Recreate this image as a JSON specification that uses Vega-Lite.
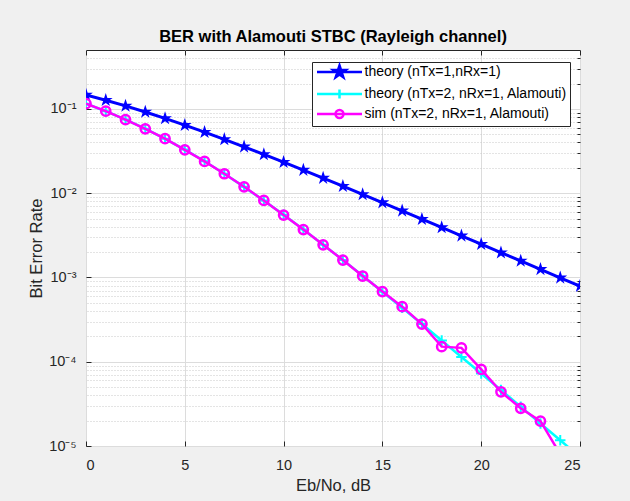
{
  "$schema": "https://vega.github.io/schema/vega-lite/v6.json",
  "width": 494,
  "height": 396,
  "autosize": "none",
  "padding": {"left": 86, "top": 50, "right": 50, "bottom": 55},
  "background": "#f0f0f0",
  "title": {"text": "BER with Alamouti STBC (Rayleigh channel)", "font": "Liberation Sans", "fontSize": 16.5, "fontWeight": "bold", "color": "#000000", "offset": 4},
  "config": {
    "view": {"fill": "white", "stroke": "#262626", "strokeWidth": 1},
    "axis": {"labelFont": "Liberation Sans", "labelFontSize": 14.5, "labelColor": "#262626", "titleFont": "Liberation Sans", "titleFontSize": 16.5, "titleFontWeight": "normal", "titleColor": "#262626", "domain": false, "tickColor": "#262626", "gridColor": "#dcdcdc", "gridWidth": 1}
  },
  "data": {"values": [
    {"x": 0, "ber": 0.1464, "series": "theory (nTx=1,nRx=1)"},
    {"x": 1, "ber": 0.1267, "series": "theory (nTx=1,nRx=1)"},
    {"x": 2, "ber": 0.1085, "series": "theory (nTx=1,nRx=1)"},
    {"x": 3, "ber": 0.0919, "series": "theory (nTx=1,nRx=1)"},
    {"x": 4, "ber": 0.0771, "series": "theory (nTx=1,nRx=1)"},
    {"x": 5, "ber": 0.0642, "series": "theory (nTx=1,nRx=1)"},
    {"x": 6, "ber": 0.053, "series": "theory (nTx=1,nRx=1)"},
    {"x": 7, "ber": 0.0435, "series": "theory (nTx=1,nRx=1)"},
    {"x": 8, "ber": 0.0355, "series": "theory (nTx=1,nRx=1)"},
    {"x": 9, "ber": 0.0288, "series": "theory (nTx=1,nRx=1)"},
    {"x": 10, "ber": 0.0233, "series": "theory (nTx=1,nRx=1)"},
    {"x": 11, "ber": 0.0188, "series": "theory (nTx=1,nRx=1)"},
    {"x": 12, "ber": 0.0151, "series": "theory (nTx=1,nRx=1)"},
    {"x": 13, "ber": 0.0121, "series": "theory (nTx=1,nRx=1)"},
    {"x": 14, "ber": 0.00967, "series": "theory (nTx=1,nRx=1)"},
    {"x": 15, "ber": 0.00773, "series": "theory (nTx=1,nRx=1)"},
    {"x": 16, "ber": 0.00617, "series": "theory (nTx=1,nRx=1)"},
    {"x": 17, "ber": 0.00492, "series": "theory (nTx=1,nRx=1)"},
    {"x": 18, "ber": 0.00392, "series": "theory (nTx=1,nRx=1)"},
    {"x": 19, "ber": 0.00312, "series": "theory (nTx=1,nRx=1)"},
    {"x": 20, "ber": 0.00248, "series": "theory (nTx=1,nRx=1)"},
    {"x": 21, "ber": 0.00197, "series": "theory (nTx=1,nRx=1)"},
    {"x": 22, "ber": 0.00157, "series": "theory (nTx=1,nRx=1)"},
    {"x": 23, "ber": 0.00125, "series": "theory (nTx=1,nRx=1)"},
    {"x": 24, "ber": 0.00099, "series": "theory (nTx=1,nRx=1)"},
    {"x": 25, "ber": 0.00079, "series": "theory (nTx=1,nRx=1)"},
    {"x": 0, "ber": 0.1151, "series": "theory (nTx=2, nRx=1, Alamouti)"},
    {"x": 1, "ber": 0.0939, "series": "theory (nTx=2, nRx=1, Alamouti)"},
    {"x": 2, "ber": 0.0748, "series": "theory (nTx=2, nRx=1, Alamouti)"},
    {"x": 3, "ber": 0.0582, "series": "theory (nTx=2, nRx=1, Alamouti)"},
    {"x": 4, "ber": 0.0442, "series": "theory (nTx=2, nRx=1, Alamouti)"},
    {"x": 5, "ber": 0.0329, "series": "theory (nTx=2, nRx=1, Alamouti)"},
    {"x": 6, "ber": 0.0239, "series": "theory (nTx=2, nRx=1, Alamouti)"},
    {"x": 7, "ber": 0.017, "series": "theory (nTx=2, nRx=1, Alamouti)"},
    {"x": 8, "ber": 0.01188, "series": "theory (nTx=2, nRx=1, Alamouti)"},
    {"x": 9, "ber": 0.00816, "series": "theory (nTx=2, nRx=1, Alamouti)"},
    {"x": 10, "ber": 0.00553, "series": "theory (nTx=2, nRx=1, Alamouti)"},
    {"x": 11, "ber": 0.0037, "series": "theory (nTx=2, nRx=1, Alamouti)"},
    {"x": 12, "ber": 0.00245, "series": "theory (nTx=2, nRx=1, Alamouti)"},
    {"x": 13, "ber": 0.00161, "series": "theory (nTx=2, nRx=1, Alamouti)"},
    {"x": 14, "ber": 0.00105, "series": "theory (nTx=2, nRx=1, Alamouti)"},
    {"x": 15, "ber": 0.000677, "series": "theory (nTx=2, nRx=1, Alamouti)"},
    {"x": 16, "ber": 0.000436, "series": "theory (nTx=2, nRx=1, Alamouti)"},
    {"x": 17, "ber": 0.00028, "series": "theory (nTx=2, nRx=1, Alamouti)"},
    {"x": 18, "ber": 0.000179, "series": "theory (nTx=2, nRx=1, Alamouti)"},
    {"x": 19, "ber": 0.000114, "series": "theory (nTx=2, nRx=1, Alamouti)"},
    {"x": 20, "ber": 0.0000726, "series": "theory (nTx=2, nRx=1, Alamouti)"},
    {"x": 21, "ber": 0.0000461, "series": "theory (nTx=2, nRx=1, Alamouti)"},
    {"x": 22, "ber": 0.0000293, "series": "theory (nTx=2, nRx=1, Alamouti)"},
    {"x": 23, "ber": 0.0000185, "series": "theory (nTx=2, nRx=1, Alamouti)"},
    {"x": 24, "ber": 0.0000117, "series": "theory (nTx=2, nRx=1, Alamouti)"},
    {"x": 25, "ber": 0.0000074, "series": "theory (nTx=2, nRx=1, Alamouti)"},
    {"x": 0, "ber": 0.1155, "series": "sim (nTx=2, nRx=1, Alamouti)"},
    {"x": 1, "ber": 0.094, "series": "sim (nTx=2, nRx=1, Alamouti)"},
    {"x": 2, "ber": 0.0745, "series": "sim (nTx=2, nRx=1, Alamouti)"},
    {"x": 3, "ber": 0.058, "series": "sim (nTx=2, nRx=1, Alamouti)"},
    {"x": 4, "ber": 0.0443, "series": "sim (nTx=2, nRx=1, Alamouti)"},
    {"x": 5, "ber": 0.0327, "series": "sim (nTx=2, nRx=1, Alamouti)"},
    {"x": 6, "ber": 0.0238, "series": "sim (nTx=2, nRx=1, Alamouti)"},
    {"x": 7, "ber": 0.017, "series": "sim (nTx=2, nRx=1, Alamouti)"},
    {"x": 8, "ber": 0.0119, "series": "sim (nTx=2, nRx=1, Alamouti)"},
    {"x": 9, "ber": 0.0082, "series": "sim (nTx=2, nRx=1, Alamouti)"},
    {"x": 10, "ber": 0.0055, "series": "sim (nTx=2, nRx=1, Alamouti)"},
    {"x": 11, "ber": 0.0037, "series": "sim (nTx=2, nRx=1, Alamouti)"},
    {"x": 12, "ber": 0.00244, "series": "sim (nTx=2, nRx=1, Alamouti)"},
    {"x": 13, "ber": 0.00161, "series": "sim (nTx=2, nRx=1, Alamouti)"},
    {"x": 14, "ber": 0.00104, "series": "sim (nTx=2, nRx=1, Alamouti)"},
    {"x": 15, "ber": 0.00068, "series": "sim (nTx=2, nRx=1, Alamouti)"},
    {"x": 16, "ber": 0.00045, "series": "sim (nTx=2, nRx=1, Alamouti)"},
    {"x": 17, "ber": 0.00028, "series": "sim (nTx=2, nRx=1, Alamouti)"},
    {"x": 18, "ber": 0.000151, "series": "sim (nTx=2, nRx=1, Alamouti)"},
    {"x": 19, "ber": 0.000146, "series": "sim (nTx=2, nRx=1, Alamouti)"},
    {"x": 20, "ber": 0.000081, "series": "sim (nTx=2, nRx=1, Alamouti)"},
    {"x": 21, "ber": 0.000044, "series": "sim (nTx=2, nRx=1, Alamouti)"},
    {"x": 22, "ber": 0.000028, "series": "sim (nTx=2, nRx=1, Alamouti)"},
    {"x": 23, "ber": 0.0000197, "series": "sim (nTx=2, nRx=1, Alamouti)"},
    {"x": 24, "ber": 0.000008, "series": "sim (nTx=2, nRx=1, Alamouti)"}
  ]},
  "layer": [
    {
      "transform": [{"filter": "datum.series === 'theory (nTx=1,nRx=1)'"}],
      "mark": {"type": "line", "strokeWidth": 3, "clip": true},
      "encoding": {
        "x": {"field": "x", "type": "quantitative", "scale": {"domain": [0, 25], "nice": false, "zero": false},
              "axis": {"orient": "bottom", "values": [0, 5, 10, 15, 20, 25], "title": "Eb/No, dB", "grid": true, "tickSize": -5, "labelPadding": 17, "titlePadding": 6}},
        "y": {"field": "ber", "type": "quantitative", "scale": {"type": "log", "domain": [0.00001, 0.5], "nice": false},
              "axis": {"orient": "left", "values": [0.00001, 0.0001, 0.001, 0.01, 0.1], "title": "Bit Error Rate", "grid": true, "tickSize": -5, "labelPadding": 15, "titlePadding": 4,
                       "labelExpr": "datum.value < 0.00005 ? '10⁻⁵' : datum.value < 0.0005 ? '10⁻⁴' : datum.value < 0.005 ? '10⁻³' : datum.value < 0.05 ? '10⁻²' : '10⁻¹'"}},
        "color": {"field": "series", "type": "nominal",
                  "scale": {"domain": ["theory (nTx=1,nRx=1)", "theory (nTx=2, nRx=1, Alamouti)", "sim (nTx=2, nRx=1, Alamouti)"], "range": ["#0000ff", "#00ffff", "#ff00ff"]},
                  "legend": {
                    "orient": "none", "legendX": 226, "legendY": 12, "title": null,
                    "symbolSize": 100, "symbolStrokeWidth": 2.5, "labelOffset": 35.5,
                    "labelFont": "Liberation Sans", "labelFontSize": 14, "labelColor": "#000000", "labelLimit": 300,
                    "padding": 3, "rowPadding": 1, "strokeColor": "#262626", "fillColor": "white",
                    "encode": {"symbols": {"update": {
                      "shape": [
                        {"test": "datum.value === 'theory (nTx=1,nRx=1)'", "value": "M-1,0H8M3.5,-1.3L3.793,-0.402L4.736,-0.402L3.972,0.153L4.264,1.052L3.5,0.497L2.736,1.052L3.028,0.153L2.264,-0.402L3.207,-0.402Z"},
                        {"test": "datum.value === 'theory (nTx=2, nRx=1, Alamouti)'", "value": "M-1,0H8M3.5,-0.9V0.9"},
                        {"value": "M-1,0H8M4.3,0A0.8,0.8,0,1,1,2.7,0A0.8,0.8,0,1,1,4.3,0"}
                      ],
                      "fill": [
                        {"test": "datum.value === 'theory (nTx=1,nRx=1)'", "value": "#0000ff"},
                        {"value": "transparent"}
                      ],
                      "strokeWidth": {"value": 2.5}
                    }}}
                  }}
      }
    },
    {
      "transform": [{"filter": "datum.series === 'theory (nTx=1,nRx=1)'"}],
      "mark": {"type": "point", "shape": "M0,-1L0.225,-0.309L0.951,-0.309L0.363,0.118L0.588,0.809L0,0.382L-0.588,0.809L-0.363,0.118L-0.951,-0.309L-0.225,-0.309Z", "filled": true, "size": 210, "color": "#0000ff", "opacity": 1, "clip": true},
      "encoding": {
        "x": {"field": "x", "type": "quantitative", "scale": {"domain": [0, 25], "nice": false, "zero": false},
              "axis": {"orient": "top", "values": [0, 5, 10, 15, 20, 25], "title": null, "labels": false, "grid": false, "tickSize": -5}},
        "y": {"field": "ber", "type": "quantitative", "scale": {"type": "log", "domain": [0.00001, 0.5], "nice": false},
              "axis": {"orient": "right", "title": null, "labels": false, "tickSize": -3, "grid": true, "gridDash": [1, 2], "gridColor": "#c8c8c8",
                       "values": [0.00002, 0.00003, 0.00004, 0.00005, 0.00006, 0.00007, 0.00008, 0.00009, 0.0002, 0.0003, 0.0004, 0.0005, 0.0006, 0.0007, 0.0008, 0.0009, 0.002, 0.003, 0.004, 0.005, 0.006, 0.007, 0.008, 0.009, 0.02, 0.03, 0.04, 0.05, 0.06, 0.07, 0.08, 0.09, 0.2, 0.3, 0.4]}}
      }
    },
    {
      "transform": [{"filter": "datum.series === 'theory (nTx=2, nRx=1, Alamouti)'"}],
      "mark": {"type": "line", "strokeWidth": 2.5, "clip": true},
      "encoding": {
        "x": {"field": "x", "type": "quantitative", "axis": null},
        "y": {"field": "ber", "type": "quantitative", "axis": null},
        "color": {"field": "series", "type": "nominal"}
      }
    },
    {
      "transform": [{"filter": "datum.series === 'theory (nTx=2, nRx=1, Alamouti)'"}],
      "mark": {"type": "point", "shape": "M-1,0H1M0,-1V1", "filled": false, "size": 110, "strokeWidth": 2, "color": "#00ffff", "opacity": 1, "clip": true},
      "encoding": {
        "x": {"field": "x", "type": "quantitative", "axis": null},
        "y": {"field": "ber", "type": "quantitative", "axis": null}
      }
    },
    {
      "transform": [{"filter": "datum.series === 'sim (nTx=2, nRx=1, Alamouti)'"}],
      "mark": {"type": "line", "strokeWidth": 2.5, "clip": true},
      "encoding": {
        "x": {"field": "x", "type": "quantitative", "axis": null},
        "y": {"field": "ber", "type": "quantitative", "axis": null},
        "color": {"field": "series", "type": "nominal"}
      }
    },
    {
      "transform": [{"filter": "datum.series === 'sim (nTx=2, nRx=1, Alamouti)'"}],
      "mark": {"type": "point", "shape": "circle", "filled": false, "size": 85, "strokeWidth": 2.5, "color": "#ff00ff", "opacity": 1, "clip": true},
      "encoding": {
        "x": {"field": "x", "type": "quantitative", "axis": null},
        "y": {"field": "ber", "type": "quantitative", "axis": null}
      }
    }
  ],
  "resolve": {"axis": {"x": "independent", "y": "independent"}}
}
